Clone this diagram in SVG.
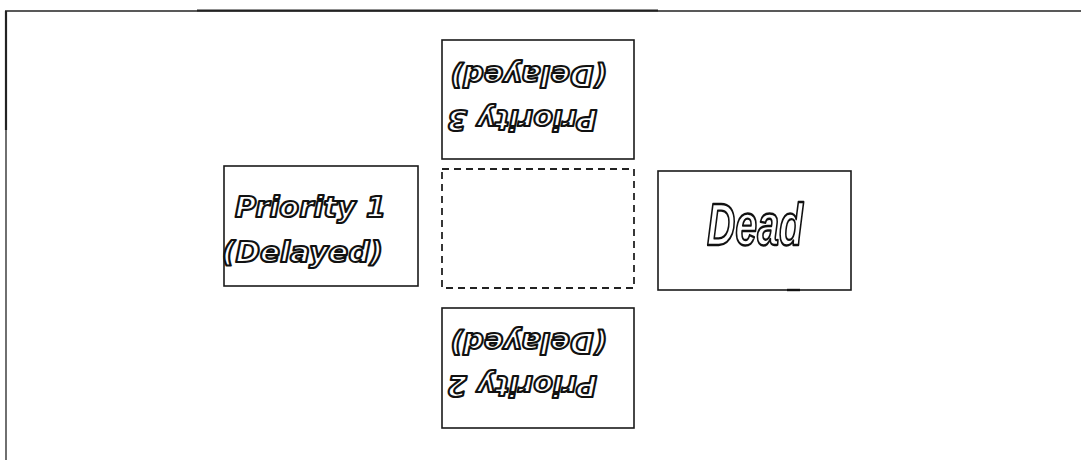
<svg xmlns="http://www.w3.org/2000/svg" width="1081" height="460" viewBox="0 0 1081 460">
  <defs>
    <style>
      .frame { stroke: #222; fill: none; }
      .box { fill: #fff; stroke: #1a1a1a; stroke-width: 1.6; }
      .slot { fill: none; stroke: #222; stroke-width: 1.8; stroke-dasharray: 7 5; }
      .label { font-weight: bold; font-style: italic;
               fill: #fff; stroke: #111; stroke-linejoin: round; }
      .lbl { font-family: "DejaVu Sans", "Liberation Sans", sans-serif; font-size: 28px; stroke-width: 2.1; }
      .big { font-family: "Liberation Sans Narrow", "Liberation Sans", sans-serif; font-size: 60px; stroke-width: 2.4; }
    </style>
  </defs>

  <rect width="1081" height="460" fill="#fff"/>

  <!-- page frame -->
  <g id="frame">
    <line class="frame" x1="5" y1="11" x2="1081" y2="11" stroke-width="1.6"/>
    <line class="frame" x1="197" y1="10.5" x2="658" y2="10.5" stroke-width="1.8"/>
    <line class="frame" x1="6" y1="11" x2="6" y2="130" stroke-width="2.2"/>
    <line class="frame" x1="6" y1="130" x2="6" y2="460" stroke-width="1.3" stroke="#555"/>
  </g>

  <g id="connectors"/>

  <!-- upper slot: Priority 3, printed upside down -->
  <g id="priority3">
    <rect class="box" x="442" y="40" width="192" height="119"/>
    <text class="label lbl" x="607" y="66" textLength="157" lengthAdjust="spacingAndGlyphs" transform="rotate(180 607 66)">(Delayed)</text>
    <text class="label lbl" x="597" y="110" textLength="150" lengthAdjust="spacingAndGlyphs" transform="rotate(180 597 110)">Priority 3</text>
  </g>

  <!-- empty centre slot -->
  <g id="centre">
    <rect class="slot" x="442" y="169" width="192" height="119"/>
  </g>

  <!-- left slot: Priority 1 -->
  <g id="priority1">
    <rect class="box" x="224" y="166" width="194" height="120"/>
    <text class="label lbl" x="235" y="217" textLength="151" lengthAdjust="spacingAndGlyphs">Priority 1</text>
    <text class="label lbl" x="222" y="262" textLength="161" lengthAdjust="spacingAndGlyphs">(Delayed)</text>
  </g>

  <!-- right slot: Dead -->
  <g id="dead">
    <rect class="box" x="658" y="171" width="193" height="119"/>
    <line x1="787" y1="290" x2="800" y2="290" stroke="#111" stroke-width="2.4"/>
    <text class="label big" x="707" y="245" textLength="96" lengthAdjust="spacingAndGlyphs">Dead</text>
  </g>

  <!-- lower slot: Priority 2, printed upside down -->
  <g id="priority2">
    <rect class="box" x="442" y="308" width="192" height="120"/>
    <text class="label lbl" x="607" y="333" textLength="157" lengthAdjust="spacingAndGlyphs" transform="rotate(180 607 333)">(Delayed)</text>
    <text class="label lbl" x="597" y="376" textLength="150" lengthAdjust="spacingAndGlyphs" transform="rotate(180 597 376)">Priority 2</text>
  </g>
</svg>
